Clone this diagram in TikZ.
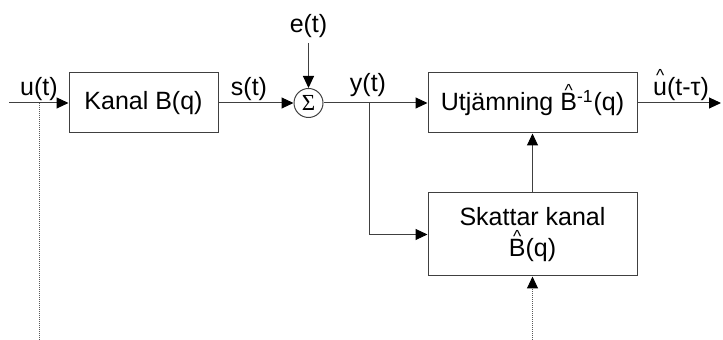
\documentclass[tikz,border=0pt]{standalone}
\usepackage{graphicx}
\usepackage{fontspec}
\setmainfont{Liberation Sans}
\newfontfamily\sigmafont{Liberation Serif}
\usetikzlibrary{arrows.meta}
% letter with a small caret floating above it
\newcommand\hatted[1]{{\ooalign{#1\cr\hidewidth\raisebox{0.56em}{\scalebox{0.7}{\textasciicircum}}\hidewidth\cr}}}

\begin{document}
\begin{tikzpicture}[x=0.5pt,y=-0.5pt,
  font=\fontsize{12.5pt}{15.5pt}\selectfont,
  tip/.tip={Triangle[length=6pt,width=5.5pt,color=black]},
  wire/.style={draw=black!75, line width=0.5pt},
  sig/.style={wire, -tip},
  block/.style={draw=black!75, line width=0.5pt, inner sep=0pt, align=center},
  lbl/.style={anchor=base, inner sep=0pt},
  tap/.style={draw=black!65, line width=0.5pt, dash pattern=on 0.5pt off 0.5pt}]

\useasboundingbox (0,0) rectangle (723,340);

% blocks
\node[block, minimum width=74.5pt, minimum height=30pt] (kanal) at (143.5,103) {Kanal B(q)};
\node[block, circle, minimum size=14.5pt] (sum) at (308.5,103) {\sigmafont\fontsize{11.5pt}{12pt}\selectfont Σ};
\node[block, minimum width=104.5pt, minimum height=30pt] (utj) at (532.5,103)
  {Utjämning \hatted{B}\textsuperscript{-1}(q)};
\node[block, minimum width=104.5pt, minimum height=41.5pt] (skat) at (532.5,234.5)
  {Skattar kanal\\\hatted{B}(q)};

% free ends
\coordinate (in)    at (9,103);
\coordinate (etop)  at (308.5,43);
\coordinate (split) at (369,103);
\coordinate (out)   at (721,103);
\coordinate (utap)  at (39,103);
\coordinate (ubot)  at (39,340);
\coordinate (sbot)  at (532.5,340);

% signal labels
\node[lbl] (lu) at (39,96)    {u(t)};
\node[lbl] (ls) at (249,96)   {s(t)};
\node[lbl] (le) at (308.5,33) {e(t)};
\node[lbl] (ly) at (368,92)   {y(t)};
\node[lbl] (lo) at (681,96)   {\hatted{u}(t-τ)};

% connectors
\draw[sig] (in) -- (kanal.west);
\draw[sig] (kanal.east) -- (sum.west);
\draw[sig] (etop) -- (sum.north);
\draw[sig] (sum.east) -- (utj.west);
\draw[sig] (split) |- (skat.west);
\draw[sig] (skat.north) -- (utj.south);
\draw[sig] (utj.east) -- (out);

% dotted taps
\draw[tap] (utap) -- (ubot);
\draw[tap, -tip] (sbot) -- (skat.south);
\end{tikzpicture}
\end{document}
